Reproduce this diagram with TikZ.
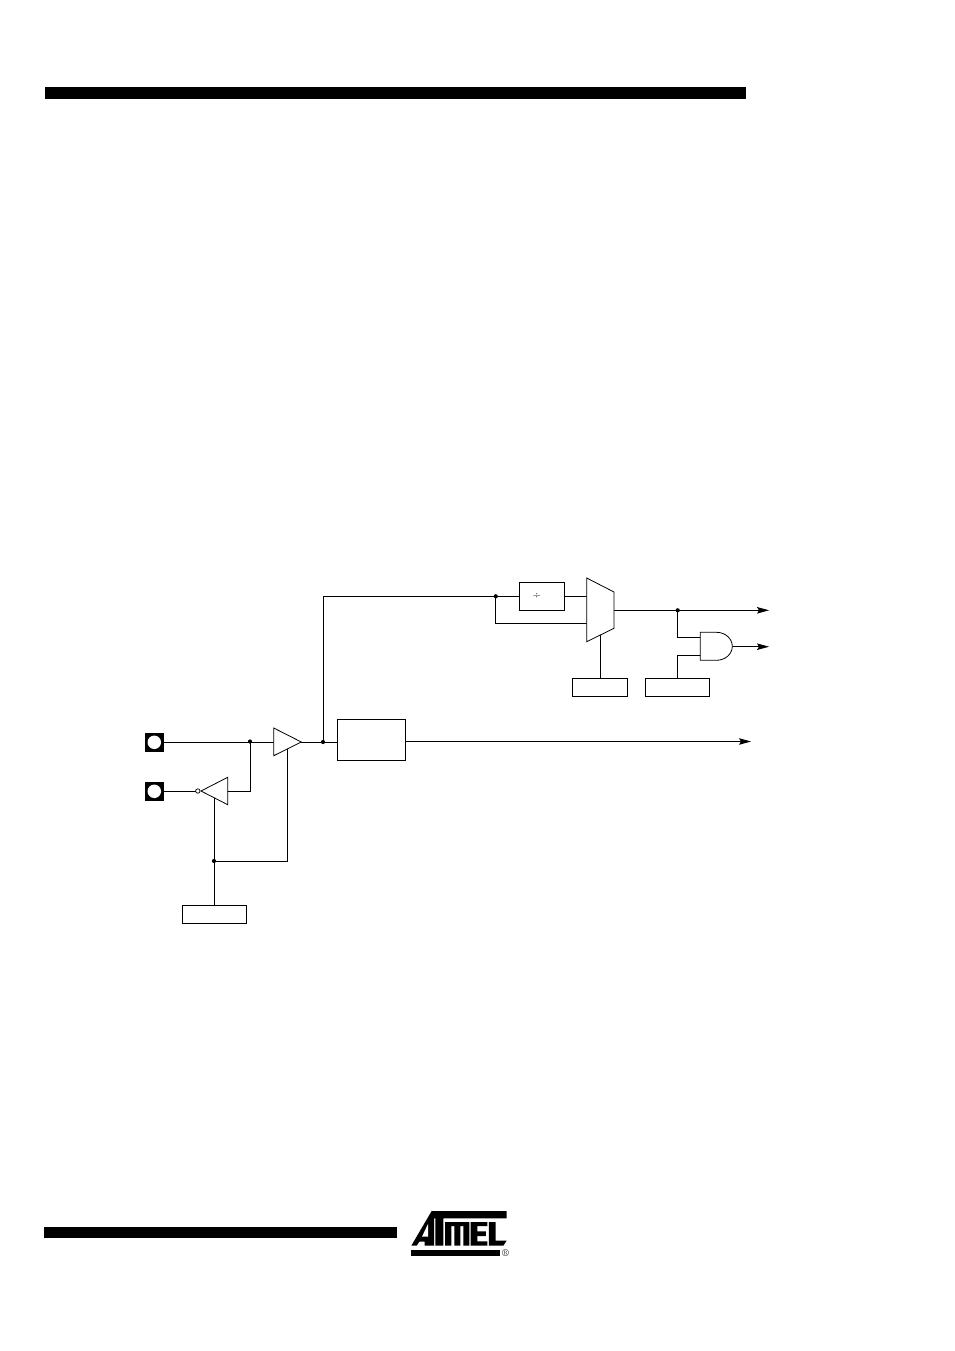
\documentclass[tikz,border=0pt]{standalone}
\usetikzlibrary{arrows.meta}
\tikzset{
  wire/.style={line width=0.9pt,line cap=rect},
  gate/.style={line width=0.8pt,line join=miter,fill=white},
  boxnode/.style={draw,line width=1pt,inner sep=0pt,outer sep=0pt,fill=white},
  dotnode/.style={circle,fill=black,inner sep=0pt,outer sep=0pt,minimum size=4.2pt},
  padnode/.style={fill=black,inner sep=0pt,outer sep=0pt,minimum size=18.6pt},
  holenode/.style={circle,fill=white,inner sep=0pt,minimum size=13.5pt},
  bubble/.style={circle,draw,line width=0.7pt,fill=white,inner sep=0pt,outer sep=0pt,minimum size=4.4pt},
  arrowwire/.style={wire,-{Stealth[length=12pt,width=6.5pt,inset=2pt]}},
  barfill/.style={fill=black}
}
\begin{document}
\begin{tikzpicture}[x=1pt,y=-1pt]
\useasboundingbox (0,0) rectangle (954,1351);
% header / footer bars
\fill[barfill] (44.5,87.5) rectangle (746,99);
\fill[barfill] (44,1227) rectangle (396.5,1238);
% pads
\node[padnode] (pad1) at (154.3,742.3) {};
\node[holenode] (hole1) at (154.3,742.3) {};
\node[padnode] (pad2) at (154.3,791.3) {};
\node[holenode] (hole2) at (154.3,791.3) {};
% boxes
\node[boxnode,minimum width=45pt,minimum height=28pt] (div) at (541.8,596.3) {\hspace{-10pt}\fontsize{11}{11}\selectfont ÷};
\node[boxnode,minimum width=55pt,minimum height=18pt] (selA) at (599.8,687.3) {};
\node[boxnode,minimum width=64pt,minimum height=18pt] (selB) at (677.3,687.3) {};
\node[boxnode,minimum width=68.4pt,minimum height=41pt] (main) at (371.5,739.8) {};
\node[boxnode,minimum width=64.4pt,minimum height=18pt] (selC) at (214.5,914.3) {};
% junctions
\node[dotnode] (jTop) at (495.8,596.3) {};
\node[dotnode] (jOut) at (677.7,610.3) {};
\node[dotnode] (jIn) at (250,741.5) {};
\node[dotnode] (jBuf) at (323,742) {};
\node[dotnode] (jCtl) at (214,861) {};
% pins and free ends
\coordinate (muxA) at (586.7,596.3);
\coordinate (muxB) at (586.7,623.3);
\coordinate (muxOut) at (614,610.3);
\coordinate (muxSel) at (600.3,635);
\coordinate (andA) at (700.3,637.7);
\coordinate (andB) at (700.3,655.3);
\coordinate (andOut) at (732.3,646.7);
\coordinate (endOut) at (769,610.3);
\coordinate (endAnd) at (769,646.7);
\coordinate (endMain) at (751,741.5);
\coordinate (bufIn) at (273.7,742.3);
\coordinate (bufOut) at (301.3,742);
\coordinate (bufCtl) at (287.6,749);
\coordinate (invOut) at (227.7,791);
\coordinate (invCtl) at (214,798);
\node[bubble] (invBub) at (197.8,791) {};
% wires
\draw[wire] (pad1.east) -- (bufIn);
\draw[wire] (pad2.east |- invBub) -- (invBub.west);
\draw[wire] (invOut) -- (invOut -| jIn) -- (jIn);
\draw[wire] (jCtl) -- (invCtl);
\draw[wire] (selC.north -| jCtl) -- (jCtl);
\draw[wire] (jCtl) -- (jCtl -| bufCtl) -- (bufCtl);
\draw[wire] (bufOut) -- (jBuf) -- (main.west |- jBuf);
\draw[wire] (jBuf) -- (jBuf |- jTop) -- (jTop) -- (div.west);
\draw[wire] (jTop) -- (jTop |- muxB) -- (muxB);
\draw[wire] (div.east) -- (muxA);
\draw[wire] (muxSel) -- (muxSel |- selA.north);
\draw[arrowwire] (muxOut) -- (endOut);
\draw[wire] (jOut) -- (jOut |- andA) -- (andA);
\draw[wire] (selB.north -| jOut) -- (jOut |- andB) -- (andB);
\draw[arrowwire] (andOut) -- (endAnd);
\draw[arrowwire] (main.east |- endMain) -- (endMain);
% gates
\draw[gate] (586.7,578) -- (614,592) -- (614,628.3) -- (586.7,641.7) -- cycle;
\draw[gate] (700.3,632.3) -- (716.5,632.3) arc[start angle=90,end angle=-90,x radius=15.8pt,y radius=14pt] -- (700.3,660.3) -- cycle;
\draw[gate] (273.7,728) -- (301.3,742) -- (273.7,755.7) -- cycle;
\draw[gate] (227.7,777.3) -- (201,791) -- (227.7,804.7) -- cycle;
% logo
\begin{scope}[shift={(400,1200)},x=0.3333pt,y=-0.3333pt]
 \fill (95,33) -- (320,33) -- (320,55) -- (130,55) -- (130,137) -- (106,137) -- (106,55) -- (102,55) -- (102,137) -- (74,137) -- (74,125) -- (58,125) -- (50,137) -- (34,137) -- cycle;
 \fill[white] (84,72) -- (84,110) -- (66,110) -- cycle;
 \fill (135,66) -- (208,66) -- (208,137) -- (190,137) -- (190,78) -- (181,78) -- (181,137) -- (163,137) -- (163,78) -- (154,78) -- (154,137) -- (135,137) -- cycle;
 \fill (212,66) -- (262,66) -- (262,78) -- (232,78) -- (232,94) -- (258,94) -- (258,108) -- (232,108) -- (232,124) -- (262,124) -- (262,137) -- (212,137) -- cycle;
 \fill (267,66) -- (287,66) -- (287,122) -- (320,122) -- (310,137) -- (267,137) -- cycle;
 \fill (34,150) rectangle (300,168);
 \node[inner sep=0pt] (reg) at (317,158) {\fontsize{10}{10}\selectfont\textregistered};
\end{scope}
\end{tikzpicture}
\end{document}
